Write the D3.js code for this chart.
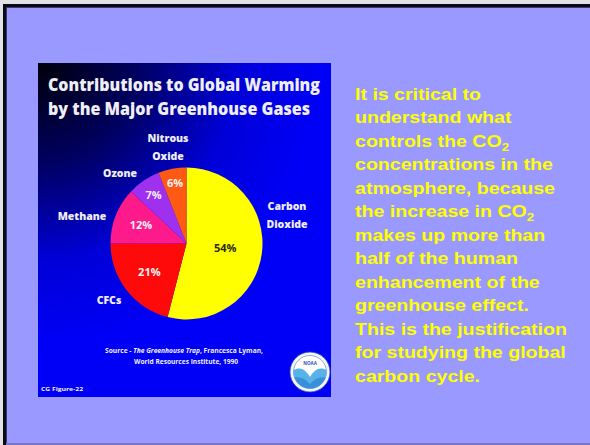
<!DOCTYPE html>
<html>
<head>
<meta charset="utf-8">
<script src="https://cdn.jsdelivr.net/npm/d3@7"></script>
<style>
  body { margin: 0; background: #e2e2e6; overflow: hidden; }
  svg { display: block; }
</style>
</head>
<body>
<svg id="slide" width="590" height="445"></svg>
<script>
// ---- data ----
const gases = ["Carbon Dioxide", "CFCs", "Methane", "Ozone", "Nitrous Oxide"];
const shares = [54, 21, 12, 7, 6];
const gasLabelLines = [["Carbon", "Dioxide"], ["CFCs"], ["Methane"], ["Ozone"], ["Nitrous", "Oxide"]];
const titleLines = ["Contributions to Global Warming", "by the Major Greenhouse Gases"];
const bodyLines = [
  ["It is critical to"],
  ["understand what"],
  ["controls the CO", "2"],
  ["concentrations in the"],
  ["atmosphere, because"],
  ["the increase in CO", "2"],
  ["makes up more than"],
  ["half of the human"],
  ["enhancement of the"],
  ["greenhouse effect."],
  ["This is the justification"],
  ["for studying the global"],
  ["carbon cycle."]
];

// ---- styling / layout ----
const sliceColors = ["#ffff00", "#ff0a0a", "#ff1a8c", "#a030f0", "#ff5a14"];
const pctColors = ["#2a2a10", "#f4f0f4", "#f4f0f4", "#f4f0f4", "#f4f0f4"];
const pctRadius = [39, 47, 49, 58.5, 61.5];
// name label block centres, relative to pie centre
const nameOffsets = [[100.5, -28.5], [-77.5, 56.5], [-104.5, -27.5], [-66.5, -70.5], [-18.5, -96.5]];

const svg = d3.select("#slide");
const defs = svg.append("defs");

// slide background with a dark frame on top/left
svg.append("rect").attr("x", 3).attr("y", 4).attr("width", 587).attr("height", 441).attr("fill", "#9999ff");
svg.append("rect").attr("x", 3).attr("y", 4).attr("width", 587).attr("height", 3).attr("fill", "#0a0a14");
svg.append("rect").attr("x", 3).attr("y", 4).attr("width", 3).attr("height", 441).attr("fill", "#0a0a14");
svg.append("rect").attr("x", 6).attr("y", 7).attr("width", 584).attr("height", 1).attr("fill", "#3a3a70");
svg.append("rect").attr("x", 6).attr("y", 7).attr("width", 1).attr("height", 438).attr("fill", "#3a3a70");
svg.append("rect").attr("x", 6).attr("y", 443).attr("width", 584).attr("height", 2).attr("fill", "#7676c4");

// chart panel
const panel = { x: 38, y: 63, w: 293, h: 334 };
const grad = defs.append("radialGradient").attr("id", "panelGrad")
  .attr("gradientUnits", "userSpaceOnUse")
  .attr("cx", panel.x).attr("cy", panel.y).attr("r", 330);
grad.append("stop").attr("offset", 0).attr("stop-color", "#000008");
grad.append("stop").attr("offset", 0.3).attr("stop-color", "#000060");
grad.append("stop").attr("offset", 0.6).attr("stop-color", "#0000d8");
grad.append("stop").attr("offset", 0.85).attr("stop-color", "#0000f6");
svg.append("rect").attr("x", panel.x).attr("y", panel.y).attr("width", panel.w).attr("height", panel.h)
  .attr("fill", "url(#panelGrad)");

const chartFont = "'Open Sans', 'DejaVu Sans', sans-serif";
const txtWhite = "#eeeef4";

// title
const titleWidths = [272, 262];
titleLines.forEach((t, i) => {
  svg.append("text")
    .attr("x", 48).attr("y", 91 + i * 23.5)
    .attr("font-family", chartFont).attr("font-weight", 800).attr("font-size", 17)
    .attr("fill", txtWhite)
    .attr("textLength", titleWidths[i]).attr("lengthAdjust", "spacingAndGlyphs")
    .text(t);
});

// pie
const cx = 186.5, cy = 243.5, R = 76;
const pie = d3.pie().sort(null).value(d => d.value);
const arcs = pie(gases.map((g, i) => ({ name: g, value: shares[i], i })));
const arc = d3.arc().innerRadius(0).outerRadius(R);
const pg = svg.append("g").attr("transform", `translate(${cx},${cy})`);
pg.selectAll("path.slice").data(arcs).join("path")
  .attr("class", "slice")
  .attr("d", arc)
  .attr("fill", d => sliceColors[d.data.i]);

// percent labels inside slices
pg.selectAll("text.pct").data(arcs).join("text")
  .attr("class", "pct")
  .attr("transform", d => {
    const a = (d.startAngle + d.endAngle) / 2;
    const r = pctRadius[d.data.i];
    return `translate(${r * Math.sin(a)},${-r * Math.cos(a) + 4})`;
  })
  .attr("text-anchor", "middle")
  .attr("font-family", chartFont).attr("font-weight", 700).attr("font-size", 11)
  .attr("fill", d => pctColors[d.data.i])
  .text(d => d.data.value + "%");

// gas names outside the pie
arcs.forEach(d => {
  const lines = gasLabelLines[d.data.i];
  const [ox, oy] = nameOffsets[d.data.i];
  const t = pg.append("text")
    .attr("text-anchor", "middle")
    .attr("font-family", chartFont).attr("font-weight", 800).attr("font-size", 10.5)
    .attr("fill", txtWhite);
  lines.forEach((ln, k) => {
    t.append("tspan").attr("x", ox)
      .attr("y", oy + 4 + (k - (lines.length - 1) / 2) * 18)
      .text(ln);
  });
});

// source note
const src1 = svg.append("text")
  .attr("x", 184).attr("y", 353).attr("text-anchor", "middle")
  .attr("font-family", chartFont).attr("font-weight", 700).attr("font-size", 6.3)
  .attr("fill", txtWhite)
  .attr("textLength", 158).attr("lengthAdjust", "spacingAndGlyphs");
src1.append("tspan").text("Source - ");
src1.append("tspan").attr("font-style", "italic").text("The Greenhouse Trap");
src1.append("tspan").text(", Francesca Lyman,");
svg.append("text")
  .attr("x", 186).attr("y", 363.5).attr("text-anchor", "middle")
  .attr("font-family", chartFont).attr("font-weight", 700).attr("font-size", 6.3)
  .attr("fill", txtWhite)
  .attr("textLength", 104).attr("lengthAdjust", "spacingAndGlyphs")
  .text("World Resources Institute, 1990");
svg.append("text")
  .attr("x", 41).attr("y", 391)
  .attr("font-family", chartFont).attr("font-weight", 700).attr("font-size", 6)
  .attr("fill", txtWhite)
  .attr("textLength", 42).attr("lengthAdjust", "spacingAndGlyphs")
  .text("CG Figure-22");

// NOAA emblem
const logo = svg.append("g").attr("transform", "translate(310,372)");
defs.append("clipPath").attr("id", "logoClip").append("circle").attr("r", 16.5);
logo.append("circle").attr("r", 20).attr("fill", "#f2f4fa").attr("stroke", "#3050a8").attr("stroke-width", 0.8);
logo.append("circle").attr("r", 16.5).attr("fill", "#ffffff").attr("stroke", "#5070c0").attr("stroke-width", 0.6);
const inner = logo.append("g").attr("clip-path", "url(#logoClip)");
inner.append("path")
  .attr("d", "M-18,-1 C-10,-6 -5,-3 0,5 C5,-3 10,-6 18,-1 V18 H-18 Z")
  .attr("fill", "#58b2ea");
inner.append("path")
  .attr("d", "M-18,6 C-10,4 -5,7 0,12 C5,7 10,4 18,6 V18 H-18 Z")
  .attr("fill", "#3a90d8");
logo.append("text").attr("y", -7).attr("text-anchor", "middle")
  .attr("font-family", chartFont).attr("font-weight", 700).attr("font-size", 4.5)
  .attr("fill", "#3050a8").text("NOAA");

// commentary text
const body = svg.append("g").attr("transform", "translate(355,0) scale(1.2,1)");
bodyLines.forEach((parts, i) => {
  const t = body.append("text")
    .attr("x", 0).attr("y", 99.7 + i * 23.5)
    .attr("font-family", "'Liberation Sans', Arial, sans-serif")
    .attr("font-weight", 700).attr("font-size", 16.3)
    .attr("fill", "#ffff00");
  t.append("tspan").text(parts[0]);
  if (parts[1]) {
    t.append("tspan").attr("font-size", 11).attr("dy", 4).text(parts[1]);
  }
});
</script>
</body>
</html>
